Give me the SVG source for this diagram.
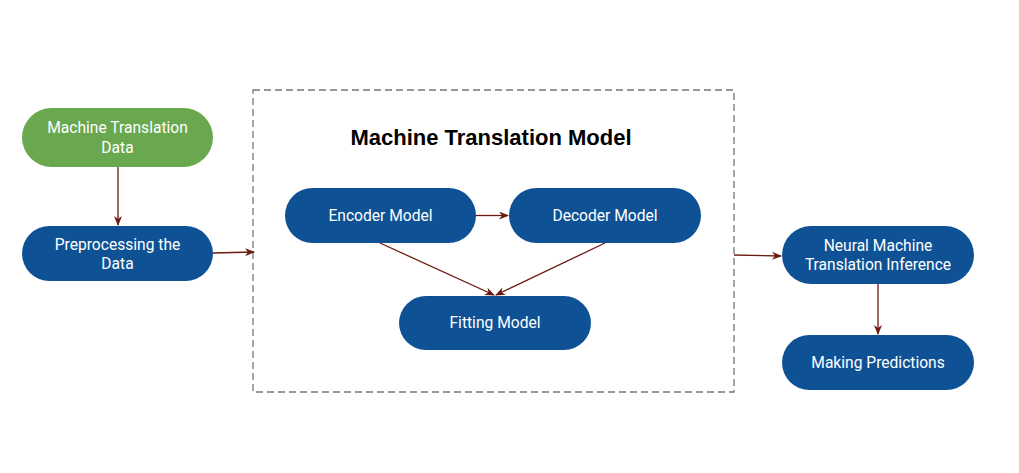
<svg xmlns="http://www.w3.org/2000/svg" width="1019" height="473" viewBox="0 0 1019 473">
<style>
.n{fill:#0E5295;}
.g{fill:#6AA84F;}
.t{font-family:Roboto,"Liberation Sans",sans-serif;font-size:15.6px;fill:#ffffff;text-anchor:middle;}
.c{stroke:#6B1A10;stroke-width:1.3;fill:none;marker-end:url(#ah);}
.title{font-family:"Liberation Sans",Arial,sans-serif;font-size:22px;font-weight:bold;fill:#000;text-anchor:middle;}
</style>
<defs>
<marker id="ah" viewBox="0 0 10 8" refX="9" refY="4" markerWidth="10" markerHeight="8" markerUnits="userSpaceOnUse" orient="auto">
<path d="M0,0 L10,4 L0,8 L3,4 z" fill="#6B1A10"/>
</marker>
</defs>
<rect width="1019" height="473" fill="#ffffff"/>
<g id="container">
<rect x="253" y="90" width="481" height="302" fill="none" stroke="#777777" stroke-width="1.3" stroke-dasharray="7,4"/>
<text class="title" x="491" y="145">Machine Translation Model</text>
</g>
<g id="connectors">
<path class="c" d="M118,167 L118,225"/>
<path class="c" d="M213,253 L254,252"/>
<path class="c" d="M476,215.5 L508,215.5"/>
<path class="c" d="M380,243 L494,295"/>
<path class="c" d="M605,243 L496,295"/>
<path class="c" d="M734,255 L781,256"/>
<path class="c" d="M878,284 L878,334"/>
</g>
<g id="mt-data">
<rect class="g" x="22" y="108" width="191" height="59" rx="29.5"/>
<text class="t" x="117.5" y="133">Machine Translation</text>
<text class="t" x="117.5" y="153">Data</text>
</g>
<g id="preprocess">
<rect class="n" x="22" y="226" width="191" height="55" rx="27.5"/>
<text class="t" x="117.5" y="250">Preprocessing the</text>
<text class="t" x="117.5" y="269">Data</text>
</g>
<g id="encoder">
<rect class="n" x="285" y="188" width="191" height="55" rx="27.5"/>
<text class="t" x="380.5" y="221">Encoder Model</text>
</g>
<g id="decoder">
<rect class="n" x="509" y="188" width="192" height="55" rx="27.5"/>
<text class="t" x="605" y="221">Decoder Model</text>
</g>
<g id="fitting">
<rect class="n" x="399" y="296" width="192" height="54" rx="27"/>
<text class="t" x="495" y="328">Fitting Model</text>
</g>
<g id="nmt-inference">
<rect class="n" x="782" y="226" width="192" height="58" rx="29"/>
<text class="t" x="878" y="251">Neural Machine</text>
<text class="t" x="878" y="270">Translation Inference</text>
</g>
<g id="predictions">
<rect class="n" x="782" y="335" width="192" height="55" rx="27.5"/>
<text class="t" x="878" y="368">Making Predictions</text>
</g>
</svg>
